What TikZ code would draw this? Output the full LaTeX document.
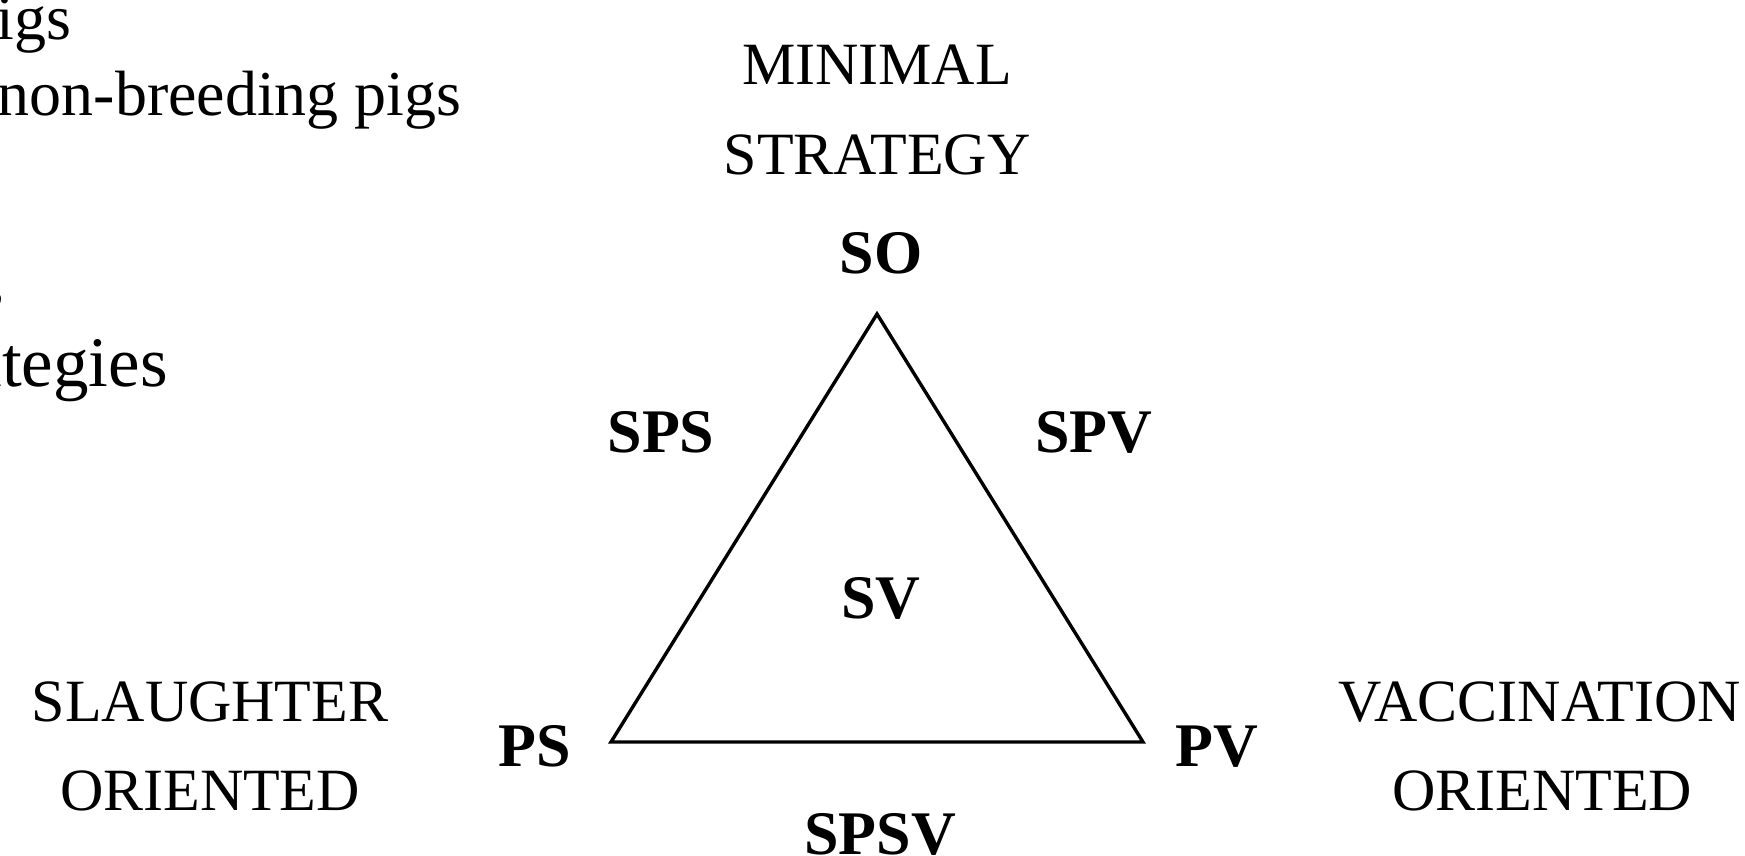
\documentclass[tikz,border=0pt]{standalone}
\usepackage{fontspec}
\setmainfont{Liberation Serif}
\usetikzlibrary{positioning}
\tikzset{
  % plain caption text
  capt/.style={font=\fontsize{30}{36}\selectfont, inner sep=0pt, anchor=base},
  % strategy code
  code/.style={font=\fontsize{31}{37}\selectfont\bfseries, inner sep=0pt, anchor=base},
  % slide text cut off at the left edge
  slide/.style={font=\fontsize{32}{38}\selectfont, inner sep=0pt, anchor=base east},
  % triangle side
  side/.style={line width=1.7pt, line join=miter},
}

\begin{document}
\begin{tikzpicture}[x=0.5pt, y=-0.5pt]
  \useasboundingbox (0,0) rectangle (1745,856);
  \clip (0,0) rectangle (1745,856);

  % ── slide text, cut off at the left ──
  \node[slide] (t1) at (72,40) {pigs};
  \node[slide] (t2) at (462,116) {non-breeding pigs};
  \node[slide] (t3) at (6,300) {,};
  \node[slide, font=\fontsize{35.5}{40}\selectfont] (t4) at (168,386) {strategies};

  % ── triangle ──
  \coordinate (cso) at (877,314);
  \coordinate (cps) at (611,742);
  \coordinate (cpv) at (1143,742);
  \draw[side] (cso) -- (cps) -- (cpv) -- cycle;

  % corner and side codes
  \node[code] (so) at (881,273) {SO};
  \node[code] (sps) at (661,452) {SPS};
  \node[code] (spv) at (1094,452) {SPV};
  \node[code] (sv) at (881,618) {SV};
  \node[code] (ps) at (535,766) {PS};
  \node[code] (pv) at (1217,766) {PV};
  \node[code] (spsv) at (880,854) {SPSV};

  % ── captions ──
  \node[capt] (min1) at (877,85) {MINIMAL};
  \node[capt] (min2) at (877,175) {STRATEGY};
  \node[capt] (sla1) at (210,721) {SLAUGHTER};
  \node[capt] (sla2) at (210,810) {ORIENTED};
  \node[capt] (vac1) at (1540,721) {VACCINATION};
  \node[capt] (vac2) at (1542,810) {ORIENTED};

\end{tikzpicture}
\end{document}
